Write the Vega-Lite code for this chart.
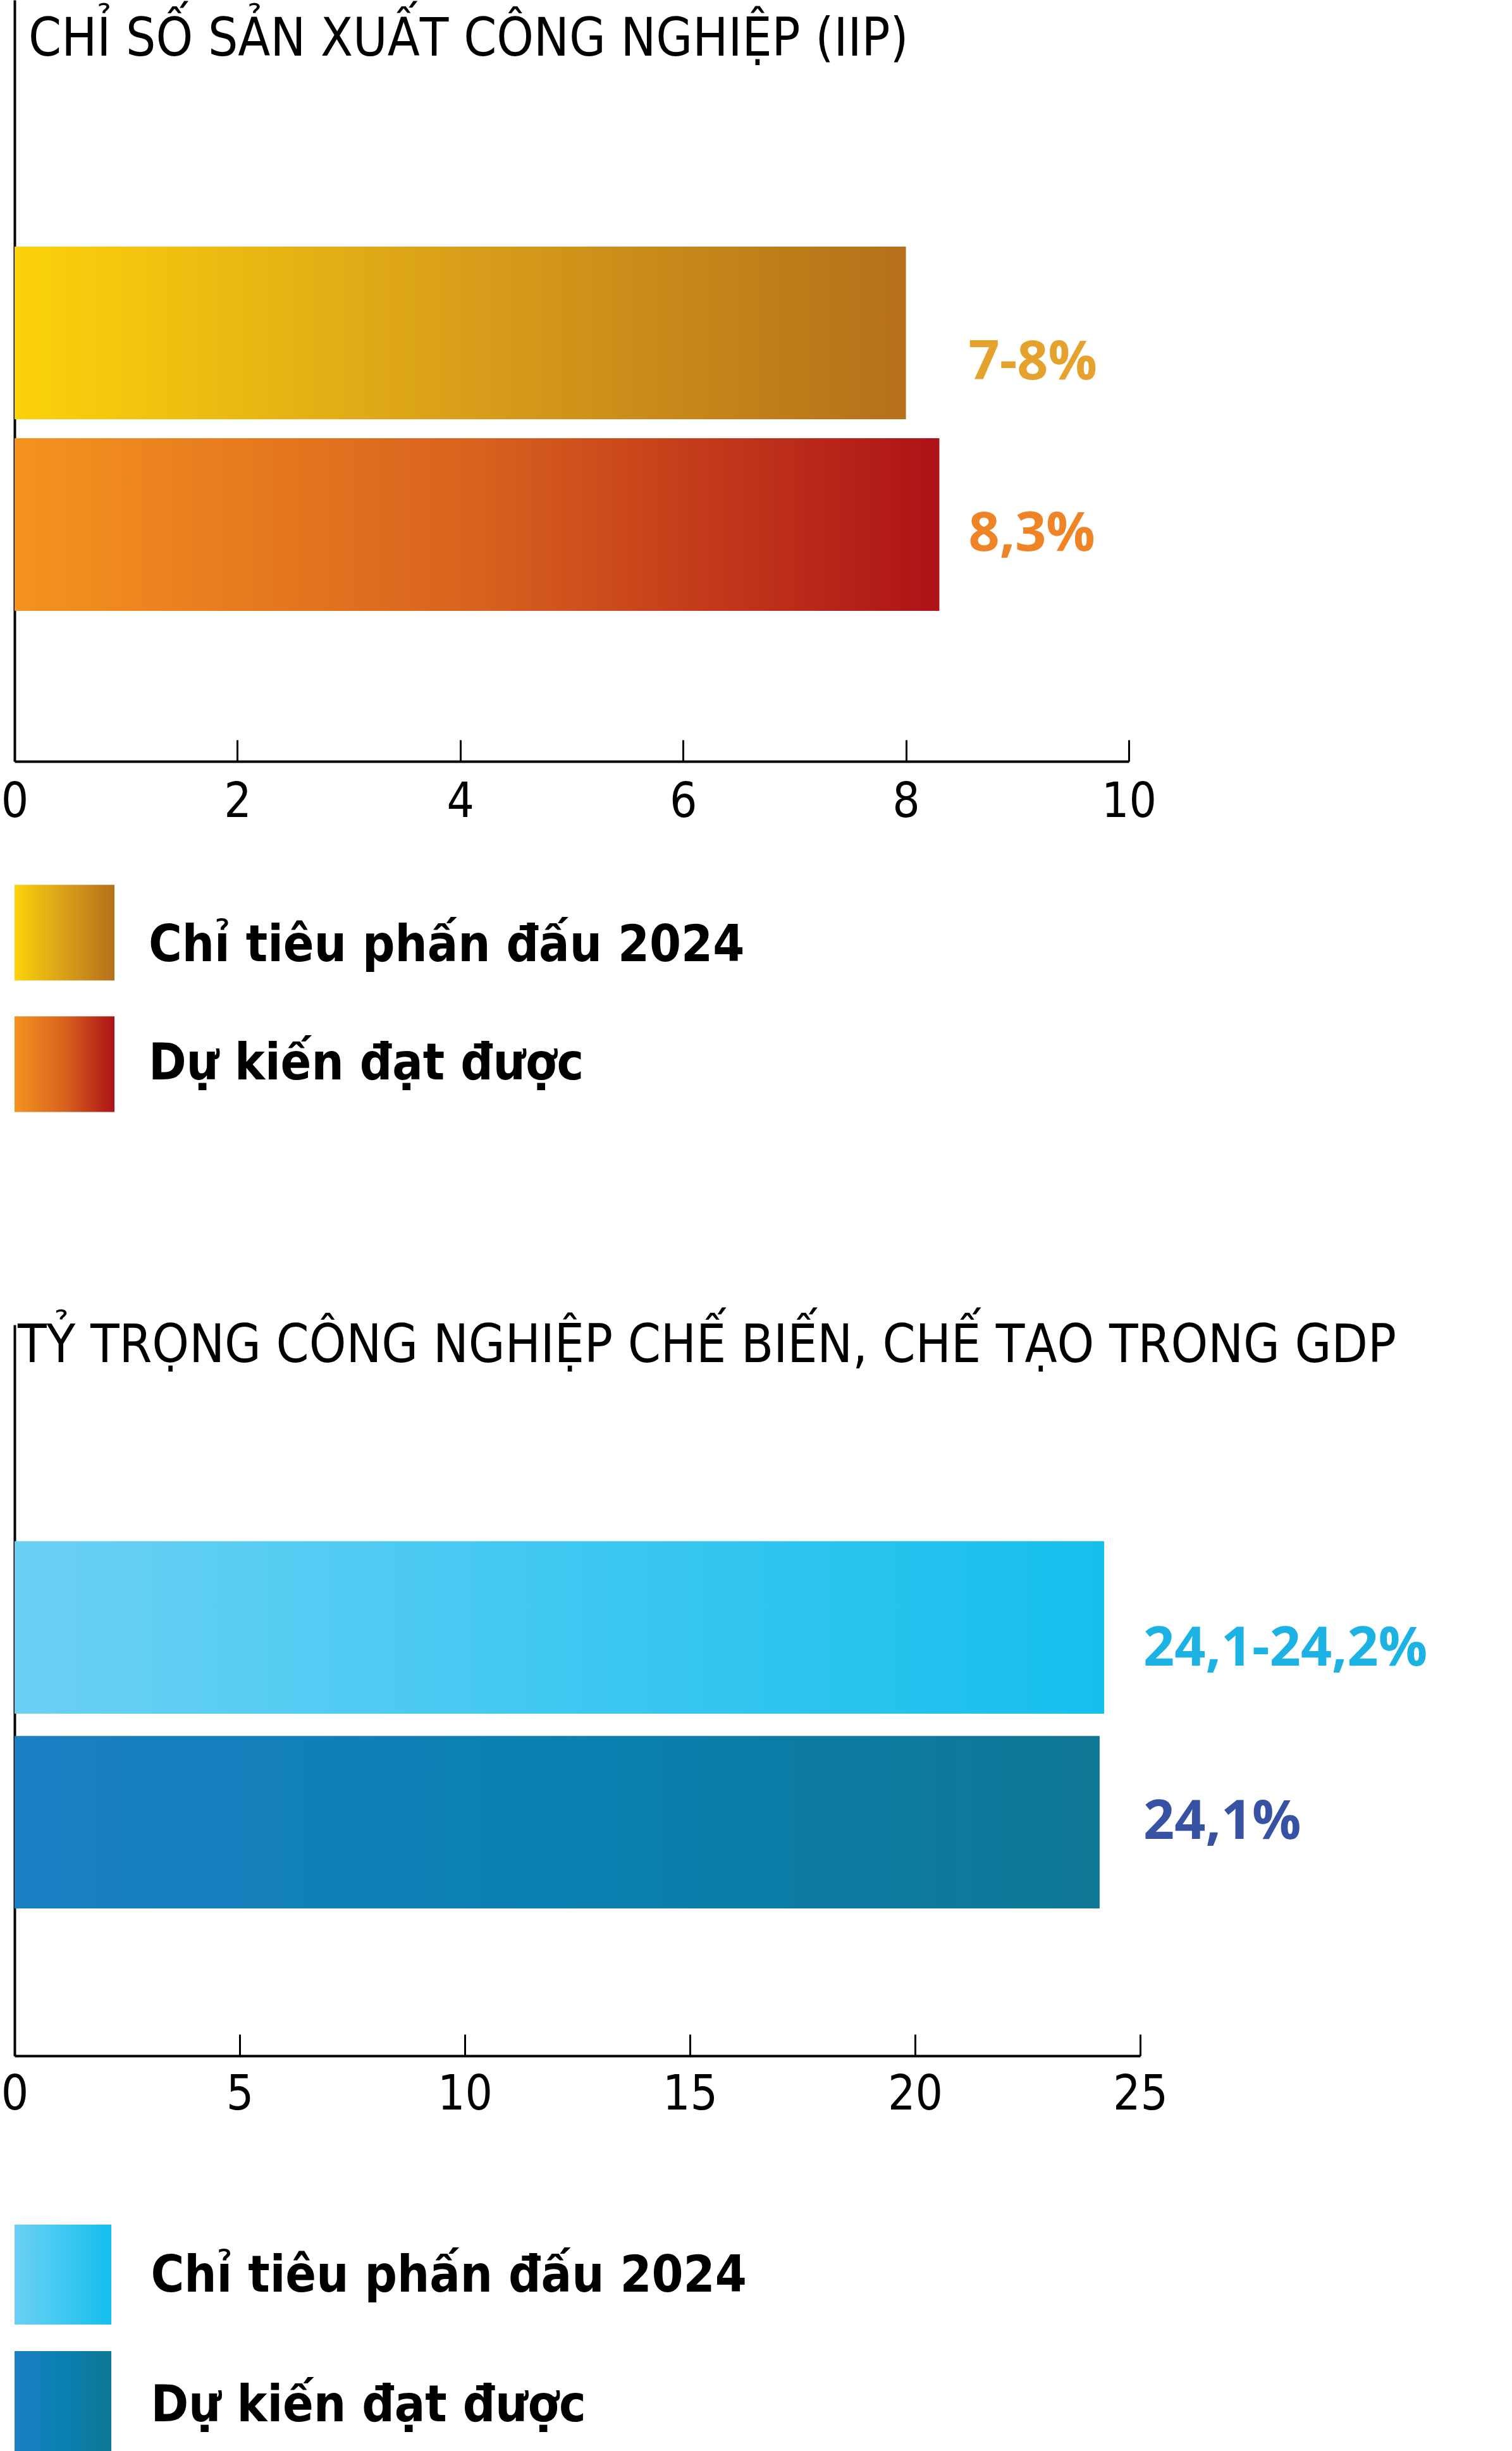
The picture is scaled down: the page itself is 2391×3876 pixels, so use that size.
{
  "$schema": "https://vega.github.io/schema/vega-lite/v6.json",
  "background": "white",
  "padding": {"left": 1, "top": 0, "right": 0, "bottom": 0},
  "spacing": 0,
  "bounds": "flush",
  "datasets": {
    "iip": [
      {"series": "Chỉ tiêu phấn đấu 2024", "value": 8, "label": "7-8%"},
      {"series": "Dự kiến đạt được", "value": 8.3, "label": "8,3%"}
    ],
    "gdp": [
      {"series": "Chỉ tiêu phấn đấu 2024", "value": 24.2, "label": "24,1-24,2%"},
      {"series": "Dự kiến đạt được", "value": 24.1, "label": "24,1%"}
    ]
  },
  "vconcat": [
    {
      "width": 1762,
      "height": 1204,
      "data": {"name": "iip"},
      "title": {"text": "CHỈ SỐ SẢN XUẤT CÔNG NGHIỆP (IIP)", "offset": -105, "dx": 22},
      "encoding": {
        "y": {
          "field": "series",
          "type": "nominal",
          "sort": null,
          "scale": {
            "domain": ["", "Chỉ tiêu phấn đấu 2024", "Dự kiến đạt được"],
            "paddingInner": 0.099,
            "paddingOuter": 0.5365,
            "align": 0.268
          },
          "axis": {"labels": false, "ticks": false, "title": null}
        }
      },
      "layer": [
        {
          "mark": {"type": "bar"},
          "encoding": {
            "x": {
              "field": "value",
              "type": "quantitative",
              "scale": {"domain": [0, 10], "nice": false},
              "axis": {"values": [0, 2, 4, 6, 8, 10], "format": "d", "tickSize": -34, "labelPadding": 61, "title": null}
            },
            "color": {
              "condition": {
                "test": "datum.series === 'Chỉ tiêu phấn đấu 2024'",
                "value": {"gradient": "linear", "stops": [
                  {"offset": 0, "color": "#FCD20A"},
                  {"offset": 0.5, "color": "#D99F1A"},
                  {"offset": 1, "color": "#B5701A"}
                ]}
              },
              "value": {"gradient": "linear", "stops": [
                {"offset": 0, "color": "#F4931F"},
                {"offset": 0.5, "color": "#D8621E"},
                {"offset": 1, "color": "#AD1217"}
              ]}
            }
          }
        },
        {
          "transform": [
            {"joinaggregate": [{"op": "max", "field": "value", "as": "vmax"}]},
            {"filter": "datum.series === 'Chỉ tiêu phấn đấu 2024'"}
          ],
          "mark": {"type": "text", "align": "left", "baseline": "middle", "dx": 46, "dy": 47, "color": "#E5A22E", "font": "Open Sans", "fontWeight": "bold", "fontSize": 86},
          "encoding": {"x": {"field": "vmax", "type": "quantitative"}, "text": {"field": "label"}}
        },
        {
          "transform": [
            {"joinaggregate": [{"op": "max", "field": "value", "as": "vmax"}]},
            {"filter": "datum.series === 'Dự kiến đạt được'"}
          ],
          "mark": {"type": "text", "align": "left", "baseline": "middle", "dx": 46, "dy": 15, "color": "#EF8427", "font": "Open Sans", "fontWeight": "bold", "fontSize": 86},
          "encoding": {"x": {"field": "vmax", "type": "quantitative"}, "text": {"field": "label"}}
        }
      ]
    },
    {
      "width": 158,
      "height": 891,
      "data": {"name": "iip"},
      "encoding": {
        "y": {
          "field": "series",
          "type": "nominal",
          "sort": null,
          "scale": {
            "domain": ["Chỉ tiêu phấn đấu 2024", "Dự kiến đạt được", ""],
            "paddingInner": 0.272,
            "paddingOuter": 0.778,
            "align": 0.603
          },
          "axis": null
        }
      },
      "layer": [
        {
          "mark": {"type": "bar"},
          "encoding": {
            "color": {
              "condition": {
                "test": "datum.series === 'Chỉ tiêu phấn đấu 2024'",
                "value": {"gradient": "linear", "stops": [
                  {"offset": 0, "color": "#FCD20A"},
                  {"offset": 0.5, "color": "#D99F1A"},
                  {"offset": 1, "color": "#B5701A"}
                ]}
              },
              "value": {"gradient": "linear", "stops": [
                {"offset": 0, "color": "#F4931F"},
                {"offset": 0.5, "color": "#D8621E"},
                {"offset": 1, "color": "#AD1217"}
              ]}
            }
          }
        },
        {
          "transform": [{"filter": "datum.series === 'Chỉ tiêu phấn đấu 2024'"}],
          "mark": {"type": "text", "align": "left", "baseline": "middle", "dx": 133, "dy": 21, "color": "#000000", "font": "Liberation Sans Narrow, DejaVu Sans Condensed, sans-serif", "fontWeight": "bold", "fontSize": 80},
          "encoding": {"text": {"field": "series"}}
        },
        {
          "transform": [{"filter": "datum.series === 'Dự kiến đạt được'"}],
          "mark": {"type": "text", "align": "left", "baseline": "middle", "dx": 133, "dy": 0, "color": "#000000", "font": "Liberation Sans Narrow, DejaVu Sans Condensed, sans-serif", "fontWeight": "bold", "fontSize": 80},
          "encoding": {"text": {"field": "series"}}
        }
      ]
    },
    {
      "width": 1780,
      "height": 1156,
      "data": {"name": "gdp"},
      "title": {"text": "TỶ TRỌNG CÔNG NGHIỆP CHẾ BIẾN, CHẾ TẠO TRONG GDP", "offset": -76, "dx": 5},
      "encoding": {
        "y": {
          "field": "series",
          "type": "nominal",
          "sort": null,
          "scale": {"paddingInner": 0.114, "paddingOuter": 0.934, "align": 0.595},
          "axis": {"labels": false, "ticks": false, "title": null}
        }
      },
      "layer": [
        {
          "mark": {"type": "bar"},
          "encoding": {
            "x": {
              "field": "value",
              "type": "quantitative",
              "scale": {"domain": [0, 25], "nice": false},
              "axis": {"values": [0, 5, 10, 15, 20, 25], "format": "d", "tickSize": -34, "labelPadding": 58, "title": null}
            },
            "color": {
              "condition": {
                "test": "datum.series === 'Chỉ tiêu phấn đấu 2024'",
                "value": {"gradient": "linear", "stops": [
                  {"offset": 0, "color": "#6CD0F4"},
                  {"offset": 0.5, "color": "#40C8F1"},
                  {"offset": 1, "color": "#15BFEC"}
                ]}
              },
              "value": {"gradient": "linear", "stops": [
                {"offset": 0, "color": "#1A7FC3"},
                {"offset": 0.5, "color": "#0A80B2"},
                {"offset": 1, "color": "#0E7794"}
              ]}
            }
          }
        },
        {
          "transform": [
            {"joinaggregate": [{"op": "max", "field": "value", "as": "vmax"}]},
            {"filter": "datum.series === 'Chỉ tiêu phấn đấu 2024'"}
          ],
          "mark": {"type": "text", "align": "left", "baseline": "middle", "dx": 62, "dy": 34, "color": "#1CB2E3", "font": "Open Sans", "fontWeight": "bold", "fontSize": 86},
          "encoding": {"x": {"field": "vmax", "type": "quantitative"}, "text": {"field": "label"}}
        },
        {
          "transform": [
            {"joinaggregate": [{"op": "max", "field": "value", "as": "vmax"}]},
            {"filter": "datum.series === 'Dự kiến đạt được'"}
          ],
          "mark": {"type": "text", "align": "left", "baseline": "middle", "dx": 62, "dy": 0, "color": "#3852A3", "font": "Open Sans", "fontWeight": "bold", "fontSize": 86},
          "encoding": {"x": {"field": "vmax", "type": "quantitative"}, "text": {"field": "label"}}
        }
      ]
    },
    {
      "width": 153,
      "height": 625,
      "data": {"name": "gdp"},
      "encoding": {
        "y": {
          "field": "series",
          "type": "nominal",
          "sort": null,
          "scale": {"paddingInner": 0.21, "paddingOuter": 0.6675, "align": 1},
          "axis": null
        }
      },
      "layer": [
        {
          "mark": {"type": "bar"},
          "encoding": {
            "color": {
              "condition": {
                "test": "datum.series === 'Chỉ tiêu phấn đấu 2024'",
                "value": {"gradient": "linear", "stops": [
                  {"offset": 0, "color": "#6CD0F4"},
                  {"offset": 0.5, "color": "#40C8F1"},
                  {"offset": 1, "color": "#15BFEC"}
                ]}
              },
              "value": {"gradient": "linear", "stops": [
                {"offset": 0, "color": "#1A7FC3"},
                {"offset": 0.5, "color": "#0A80B2"},
                {"offset": 1, "color": "#0E7794"}
              ]}
            }
          }
        },
        {
          "transform": [{"filter": "datum.series === 'Chỉ tiêu phấn đấu 2024'"}],
          "mark": {"type": "text", "align": "left", "baseline": "middle", "dx": 139, "dy": 3, "color": "#000000", "font": "Liberation Sans Narrow, DejaVu Sans Condensed, sans-serif", "fontWeight": "bold", "fontSize": 80},
          "encoding": {"text": {"field": "series"}}
        },
        {
          "transform": [{"filter": "datum.series === 'Dự kiến đạt được'"}],
          "mark": {"type": "text", "align": "left", "baseline": "middle", "dx": 139, "dy": 8, "color": "#000000", "font": "Liberation Sans Narrow, DejaVu Sans Condensed, sans-serif", "fontWeight": "bold", "fontSize": 80},
          "encoding": {"text": {"field": "series"}}
        }
      ]
    }
  ],
  "config": {
    "view": {"stroke": null},
    "axis": {
      "grid": false,
      "domainColor": "#000000",
      "domainWidth": 4,
      "tickColor": "#000000",
      "tickWidth": 3,
      "labelColor": "#000000",
      "labelFont": "Liberation Sans Narrow, DejaVu Sans Condensed, sans-serif",
      "labelFontSize": 76,
      "labelFlush": false
    },
    "title": {
      "font": "Liberation Sans Narrow, DejaVu Sans Condensed, sans-serif",
      "fontSize": 83,
      "fontWeight": "normal",
      "color": "#000000",
      "anchor": "start",
      "frame": "group",
      "baseline": "alphabetic"
    }
  }
}
